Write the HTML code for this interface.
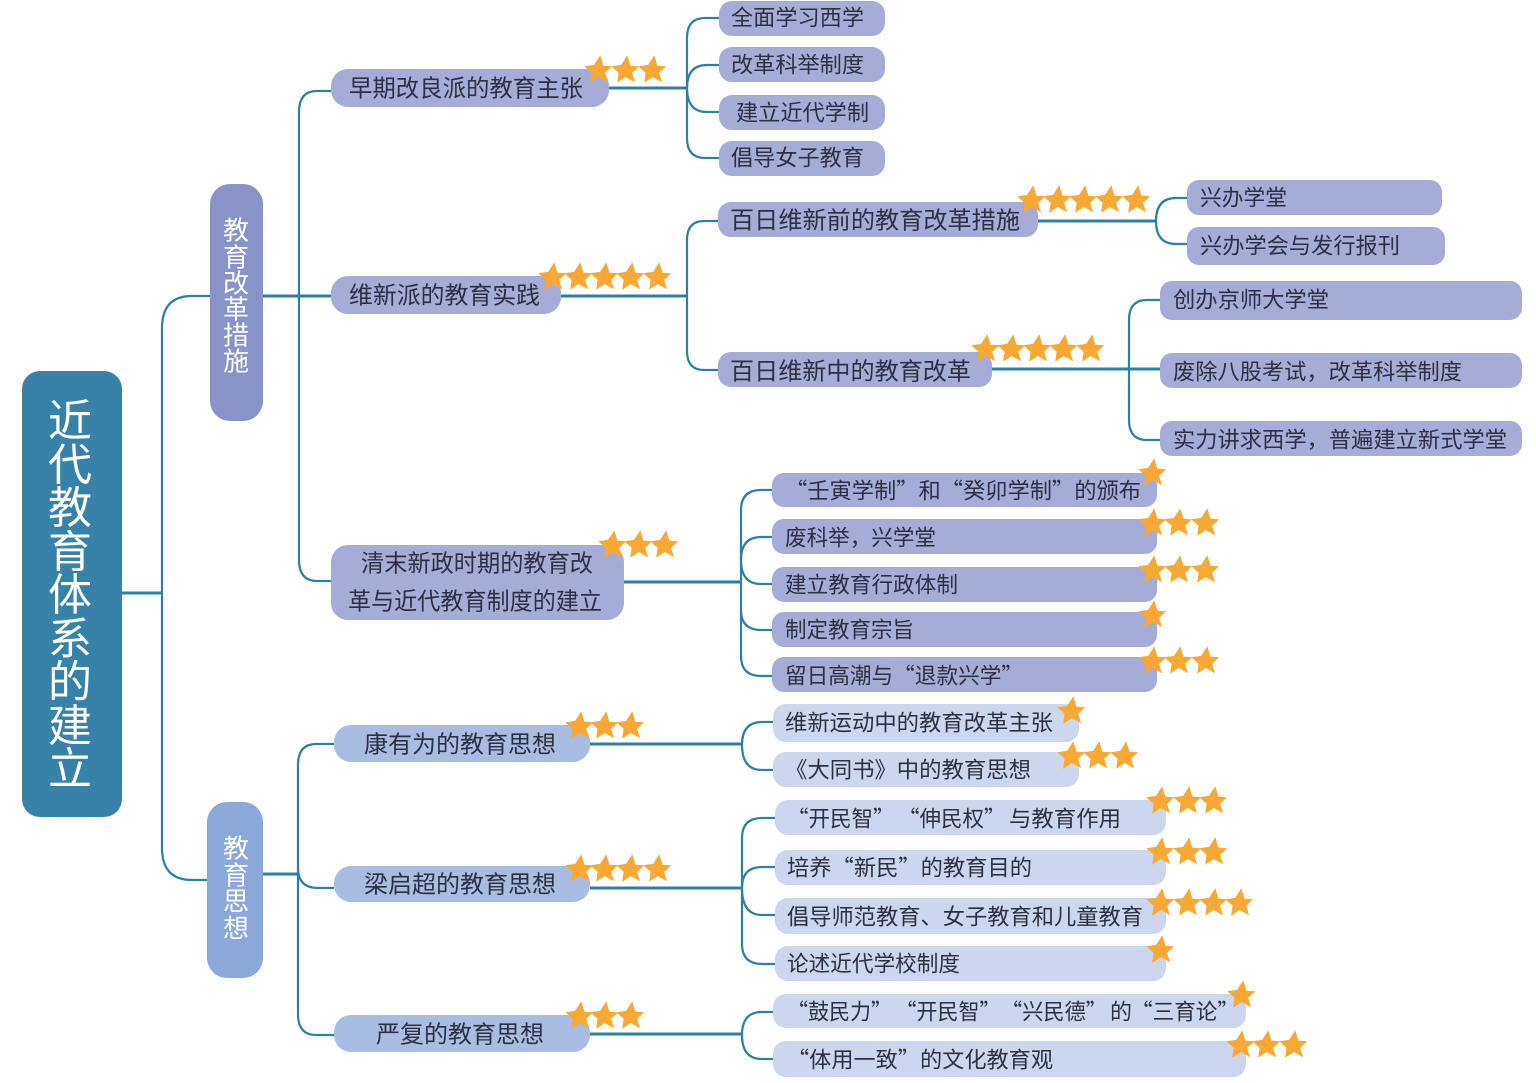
<!DOCTYPE html>
<html lang="zh-CN">
<head>
<meta charset="utf-8">
<title>近代教育体系的建立</title>
<style>
html,body{margin:0;padding:0;background:#fff;width:1536px;height:1083px;overflow:hidden}
svg{display:block}
text{font-family:"Noto Sans CJK SC","Liberation Sans",sans-serif;dominant-baseline:central}
.c{fill:none;stroke:#2f7f9f;stroke-width:2.2}
.t{stroke:#2f7f9f;stroke-width:3;fill:none}
.a{fill:#a6acd8}
.b{fill:#a9bde3}
.d{fill:#ccd6ee}
.x{fill:#2e3040;font-size:24px;transform:translateY(-1.8px)}
.y{fill:#2e3040;font-size:22px;transform:translateY(-1.6px)}
.v{fill:#fff;font-size:26px;text-anchor:middle;transform:translateY(-1px)}
.r{fill:#fff;font-size:44px;text-anchor:middle;transform:translateY(-3px)}
.s{fill:#f9a933}
</style>
</head>
<body>
<svg width="1536" height="1083" viewBox="0 0 1536 1083" xmlns="http://www.w3.org/2000/svg">
<defs>
<polygon id="st" class="s" points="2.3,-13.8 5.4,-3.4 14.2,-2.6 7.1,3.7 10.1,13.3 0.7,8 -7.8,13.8 -6.4,3.8 -13.7,-2.8 -3.9,-4.1"/>
</defs>

<!-- connectors -->
<path class="t" d="M122 593H162"/>
<path class="c" d="M210 296H192Q162 296 162 328V848Q162 880 192 880H207"/>
<path class="t" d="M263 296H331"/>
<path class="c" d="M331 91H317Q299 91 299 112V560Q299 581 317 581H331"/>
<path class="t" d="M263 874H298"/>
<path class="c" d="M334 744H316Q298 744 298 765V1014Q298 1035 316 1035H334"/>
<path class="c" d="M298 868Q298 888 318 888H334"/>

<path class="t" d="M609 88H687"/>
<path class="c" d="M719 18H705Q687 18 687 38V138Q687 158 705 158H719"/>
<path class="c" d="M719 65H707Q687 65 687 88Q687 112 707 112H719"/>
<path class="t" d="M561 296H687"/>
<path class="c" d="M718 221H704Q687 221 687 240V351Q687 370 704 370H718"/>
<path class="t" d="M1038 221H1156"/>
<path class="c" d="M1187 198H1176Q1156 198 1156 221Q1156 244 1176 244H1187"/>
<path class="t" d="M992 369H1160"/>
<path class="c" d="M1160 300H1147Q1129 300 1129 320V420Q1129 440 1147 440H1160"/>

<path class="t" d="M624 582H741"/>
<path class="c" d="M772 490H761Q741 490 741 510V656Q741 676 761 676H772"/>
<path class="c" d="M772 537H761Q741 537 741 560Q741 584 761 584H772"/>
<path class="c" d="M741 610Q741 630 761 630H772"/>

<path class="t" d="M590 744H742"/>
<path class="c" d="M773 722H762Q742 722 742 745Q742 770 762 770H773"/>
<path class="t" d="M590 888H742"/>
<path class="c" d="M775 818H762Q742 818 742 838V944Q742 964 762 964H775"/>
<path class="c" d="M775 867H762Q742 867 742 888Q742 915 762 915H775"/>
<path class="t" d="M590 1034H742"/>
<path class="c" d="M773 1012H762Q742 1012 742 1035Q742 1059 762 1059H773"/>

<!-- root -->
<rect x="22" y="371" width="100" height="446" rx="18" fill="#3682a8"/>
<text class="r" x="70" y="420">近</text>
<text class="r" x="70" y="464">代</text>
<text class="r" x="70" y="507">教</text>
<text class="r" x="70" y="551">育</text>
<text class="r" x="70" y="594">体</text>
<text class="r" x="70" y="638">系</text>
<text class="r" x="70" y="681">的</text>
<text class="r" x="70" y="725">建</text>
<text class="r" x="70" y="768">立</text>

<!-- level 1 -->
<rect x="210" y="184" width="53" height="237" rx="20" fill="#8993c8"/>
<text class="v" x="236" y="230">教</text>
<text class="v" x="236" y="257">育</text>
<text class="v" x="236" y="283">改</text>
<text class="v" x="236" y="309">革</text>
<text class="v" x="236" y="335">措</text>
<text class="v" x="236" y="361">施</text>
<rect x="207" y="802" width="56" height="176" rx="20" fill="#8aa9d9"/>
<text class="v" x="236" y="848">教</text>
<text class="v" x="236" y="875">育</text>
<text class="v" x="236" y="901">思</text>
<text class="v" x="236" y="928">想</text>

<!-- level 2 -->
<rect class="a" x="331" y="69" width="278" height="38" rx="17"/>
<text class="x" x="349" y="88" textLength="234" lengthAdjust="spacingAndGlyphs">早期改良派的教育主张</text>
<rect class="a" x="331" y="276" width="230" height="38" rx="17"/>
<text class="x" x="349" y="295" textLength="191" lengthAdjust="spacingAndGlyphs">维新派的教育实践</text>
<rect class="a" x="331" y="545" width="293" height="75" rx="17"/>
<text class="x" x="361" y="563" textLength="232" lengthAdjust="spacingAndGlyphs">清末新政时期的教育改</text>
<text class="x" x="348" y="601" textLength="254" lengthAdjust="spacingAndGlyphs">革与近代教育制度的建立</text>
<rect class="b" x="334" y="725" width="256" height="37" rx="17"/>
<text class="x" x="364" y="744" textLength="192" lengthAdjust="spacingAndGlyphs">康有为的教育思想</text>
<rect class="b" x="334" y="866" width="256" height="36" rx="17"/>
<text class="x" x="364" y="884" textLength="192" lengthAdjust="spacingAndGlyphs">梁启超的教育思想</text>
<rect class="b" x="334" y="1015" width="256" height="37" rx="17"/>
<text class="x" x="376" y="1034" textLength="168" lengthAdjust="spacingAndGlyphs">严复的教育思想</text>

<!-- level 3 upper -->
<rect class="a" x="719" y="1" width="166" height="35" rx="13"/>
<text class="y" x="731" y="18" textLength="133" lengthAdjust="spacingAndGlyphs">全面学习西学</text>
<rect class="a" x="719" y="47" width="166" height="35" rx="13"/>
<text class="y" x="731" y="65" textLength="133" lengthAdjust="spacingAndGlyphs">改革科举制度</text>
<rect class="a" x="719" y="95" width="166" height="35" rx="13"/>
<text class="y" x="736" y="113" textLength="133" lengthAdjust="spacingAndGlyphs">建立近代学制</text>
<rect class="a" x="719" y="141" width="166" height="35" rx="13"/>
<text class="y" x="731" y="158" textLength="133" lengthAdjust="spacingAndGlyphs">倡导女子教育</text>
<rect class="a" x="718" y="202" width="320" height="35" rx="13"/>
<text class="x" x="730" y="220" textLength="290" lengthAdjust="spacingAndGlyphs">百日维新前的教育改革措施</text>
<rect class="a" x="718" y="352" width="274" height="35" rx="13"/>
<text class="x" x="730" y="371" textLength="241" lengthAdjust="spacingAndGlyphs">百日维新中的教育改革</text>

<!-- level 4 -->
<rect class="a" x="1187" y="180" width="255" height="35" rx="12"/>
<text class="y" x="1200" y="198" textLength="87" lengthAdjust="spacingAndGlyphs">兴办学堂</text>
<rect class="a" x="1187" y="227" width="258" height="38" rx="12"/>
<text class="y" x="1200" y="246" textLength="200" lengthAdjust="spacingAndGlyphs">兴办学会与发行报刊</text>
<rect class="a" x="1160" y="281" width="362" height="39" rx="12"/>
<text class="y" x="1173" y="300" textLength="156" lengthAdjust="spacingAndGlyphs">创办京师大学堂</text>
<rect class="a" x="1160" y="353" width="362" height="35" rx="12"/>
<text class="y" x="1173" y="372" textLength="289" lengthAdjust="spacingAndGlyphs">废除八股考试，改革科举制度</text>
<rect class="a" x="1160" y="421" width="362" height="35" rx="12"/>
<text class="y" x="1173" y="440" textLength="334" lengthAdjust="spacingAndGlyphs">实力讲求西学，普遍建立新式学堂</text>

<rect class="a" x="772" y="473" width="385" height="34" rx="12"/>
<text class="y" x="785" y="491" textLength="356" lengthAdjust="spacingAndGlyphs">“壬寅学制”和“癸卯学制”的颁布</text>
<rect class="a" x="772" y="519" width="385" height="35" rx="12"/>
<text class="y" x="785" y="538" textLength="151" lengthAdjust="spacingAndGlyphs">废科举，兴学堂</text>
<rect class="a" x="772" y="567" width="385" height="35" rx="12"/>
<text class="y" x="785" y="585" textLength="173" lengthAdjust="spacingAndGlyphs">建立教育行政体制</text>
<rect class="a" x="772" y="612" width="385" height="35" rx="12"/>
<text class="y" x="785" y="630" textLength="129" lengthAdjust="spacingAndGlyphs">制定教育宗旨</text>
<rect class="a" x="772" y="657" width="385" height="35" rx="12"/>
<text class="y" x="785" y="676" textLength="238" lengthAdjust="spacingAndGlyphs">留日高潮与“退款兴学”</text>

<rect class="d" x="773" y="704" width="306" height="38" rx="13"/>
<text class="y" x="785" y="723" textLength="268" lengthAdjust="spacingAndGlyphs">维新运动中的教育改革主张</text>
<rect class="d" x="773" y="752" width="306" height="35" rx="13"/>
<text class="y" x="785" y="770" textLength="246" lengthAdjust="spacingAndGlyphs">《大同书》中的教育思想</text>
<rect class="d" x="775" y="800" width="391" height="35" rx="13"/>
<text class="y" x="787" y="819" textLength="107.500" lengthAdjust="spacingAndGlyphs">“开民智”</text>
<text class="y" x="898" y="819" textLength="107.500" lengthAdjust="spacingAndGlyphs">“伸民权”</text>
<text class="y" x="1009" y="819" textLength="112" lengthAdjust="spacingAndGlyphs">与教育作用</text>
<rect class="d" x="775" y="850" width="391" height="35" rx="13"/>
<text class="y" x="787" y="868" textLength="245" lengthAdjust="spacingAndGlyphs">培养“新民”的教育目的</text>
<rect class="d" x="775" y="898" width="391" height="36" rx="13"/>
<text class="y" x="787" y="917" textLength="356" lengthAdjust="spacingAndGlyphs">倡导师范教育、女子教育和儿童教育</text>
<rect class="d" x="775" y="946" width="391" height="35" rx="13"/>
<text class="y" x="787" y="964" textLength="173" lengthAdjust="spacingAndGlyphs">论述近代学校制度</text>
<rect class="d" x="773" y="994" width="473" height="34" rx="13"/>
<text class="y" x="787" y="1012" textLength="105" lengthAdjust="spacingAndGlyphs">“鼓民力”</text>
<text class="y" x="895.500" y="1012" textLength="105" lengthAdjust="spacingAndGlyphs">“开民智”</text>
<text class="y" x="1001" y="1012" textLength="106" lengthAdjust="spacingAndGlyphs">“兴民德”</text>
<text class="y" x="1110" y="1012" textLength="22" lengthAdjust="spacingAndGlyphs">的</text>
<text class="y" x="1131" y="1012" textLength="108" lengthAdjust="spacingAndGlyphs">“三育论”</text>
<rect class="d" x="773" y="1041" width="473" height="36" rx="13"/>
<text class="y" x="787" y="1060" textLength="266" lengthAdjust="spacingAndGlyphs">“体用一致”的文化教育观</text>

<!-- stars -->
<use href="#st" x="598" y="69"/><use href="#st" x="625" y="69"/><use href="#st" x="652" y="69"/>
<use href="#st" x="552" y="276"/><use href="#st" x="578" y="276"/><use href="#st" x="604" y="276"/><use href="#st" x="630" y="276"/><use href="#st" x="657" y="276"/>
<use href="#st" x="1031" y="199"/><use href="#st" x="1057" y="199"/><use href="#st" x="1083" y="199"/><use href="#st" x="1109" y="199"/><use href="#st" x="1136" y="199"/>
<use href="#st" x="985" y="348"/><use href="#st" x="1011" y="348"/><use href="#st" x="1037" y="348"/><use href="#st" x="1063" y="348"/><use href="#st" x="1090" y="348"/>
<use href="#st" x="612" y="544"/><use href="#st" x="638" y="544"/><use href="#st" x="664" y="544"/>
<use href="#st" x="1152" y="472"/>
<use href="#st" x="1152" y="522"/><use href="#st" x="1178" y="522"/><use href="#st" x="1205" y="522"/>
<use href="#st" x="1152" y="569"/><use href="#st" x="1178" y="569"/><use href="#st" x="1205" y="569"/>
<use href="#st" x="1152" y="614"/>
<use href="#st" x="1152" y="660"/><use href="#st" x="1178" y="660"/><use href="#st" x="1205" y="660"/>
<use href="#st" x="579" y="725"/><use href="#st" x="604" y="725"/><use href="#st" x="630" y="725"/>
<use href="#st" x="579" y="868"/><use href="#st" x="604" y="868"/><use href="#st" x="630" y="868"/><use href="#st" x="657" y="868"/>
<use href="#st" x="579" y="1015"/><use href="#st" x="604" y="1015"/><use href="#st" x="630" y="1015"/>
<use href="#st" x="1071" y="710"/>
<use href="#st" x="1071" y="755"/><use href="#st" x="1097" y="755"/><use href="#st" x="1124" y="755"/>
<use href="#st" x="1160" y="800"/><use href="#st" x="1187" y="800"/><use href="#st" x="1213" y="800"/>
<use href="#st" x="1160" y="851"/><use href="#st" x="1187" y="851"/><use href="#st" x="1213" y="851"/>
<use href="#st" x="1160" y="902"/><use href="#st" x="1187" y="902"/><use href="#st" x="1213" y="902"/><use href="#st" x="1239" y="902"/>
<use href="#st" x="1160" y="949"/>
<use href="#st" x="1241" y="994"/>
<use href="#st" x="1240" y="1044"/><use href="#st" x="1266" y="1044"/><use href="#st" x="1293" y="1044"/>
</svg>
</body>
</html>
